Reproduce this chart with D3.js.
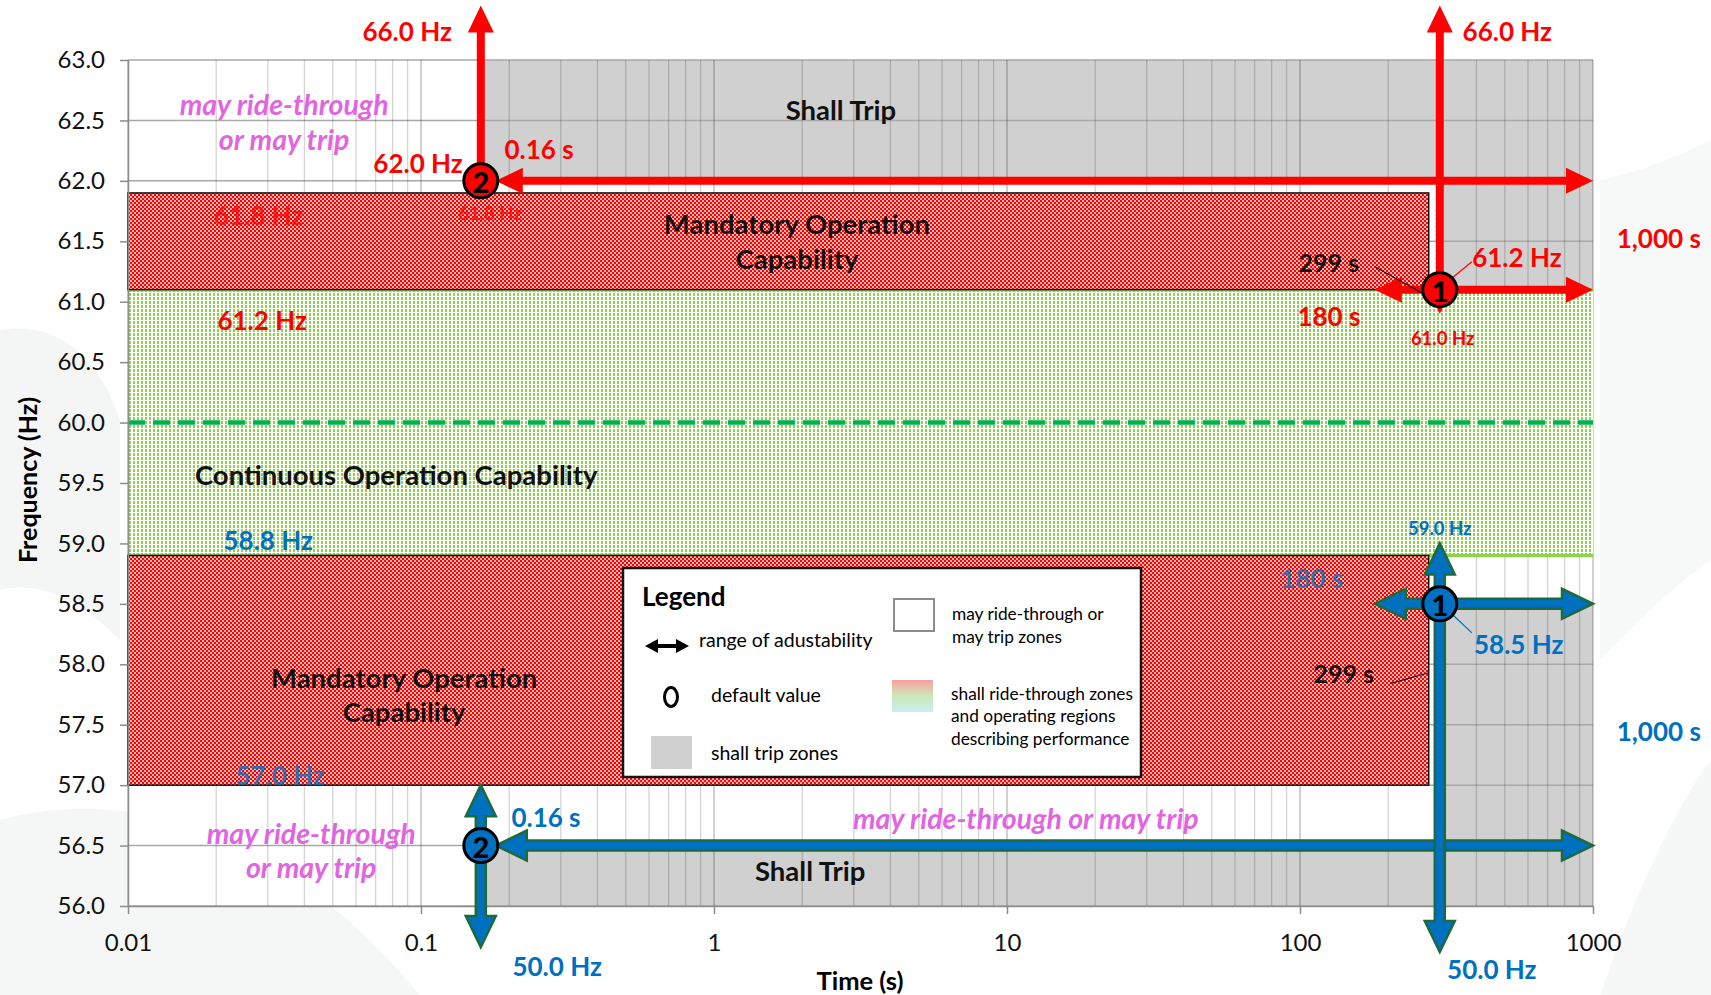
<!DOCTYPE html>
<html lang="en">
<head>
<meta charset="UTF-8">
<title>Frequency Ride-Through Requirements</title>
<script src="https://d3js.org/d3.v7.min.js"></script>
<style>
  body { margin: 0; background: #fff; }
  text { font-family: Lato, "Open Sans", sans-serif; }
</style>
</head>
<body>
<svg id="chart" width="1711" height="995"></svg>
<script>
// ---- data ----
const timeTicks = [0.01, 0.1, 1, 10, 100, 1000];
const timeTickLabels = ['0.01', '0.1', '1', '10', '100', '1000'];
const freqTicks = [56.0, 56.5, 57.0, 57.5, 58.0, 58.5, 59.0, 59.5, 60.0, 60.5, 61.0, 61.5, 62.0, 62.5, 63.0];

// shall trip zones (time s, frequency Hz)
const upperTripZone = [[0.16, 63], [1000, 63], [1000, 61.1], [300, 61.1], [300, 62], [0.16, 62]];
const lowerTripZone = [[0.16, 56], [1000, 56], [1000, 58.5], [300, 58.5], [300, 56.5], [0.16, 56.5]];

// mandatory operation zones
const mandatoryZones = [
  { t0: 0.01, t1: 275, f0: 61.1, f1: 61.9 },
  { t0: 0.01, t1: 275, f0: 57.0, f1: 58.9 }
];
// continuous operation zone
const continuousZone = { t0: 0.01, t1: 1000, f0: 58.9, f1: 61.1 };
const nominalFreq = 60.0;

// ranges of adjustability: [start, end], heads at start / end
const overFreqArrows = [
  { from: [0.16, 62.0], to: [0.16, 63.45], startHead: false, endHead: true },
  { from: [0.18, 62.0], to: [1000, 62.0], startHead: true, endHead: true },
  { from: [180, 61.1], to: [1000, 61.1], startHead: true, endHead: true },
  { from: [300, 60.9], to: [300, 63.45], startHead: true, endHead: true }
];
const underFreqArrows = [
  { from: [0.16, 55.66], to: [0.16, 57.0], startHead: true, endHead: true },
  { from: [0.18, 56.5], to: [1000, 56.5], startHead: true, endHead: true },
  { from: [180, 58.5], to: [1000, 58.5], startHead: true, endHead: true },
  { from: [300, 55.62], to: [300, 59.0], startHead: true, endHead: true }
];

// default values
const defaultPoints = [
  { t: 0.16, f: 62.0, n: '2', side: 'over' },
  { t: 300, f: 61.1, n: '1', side: 'over' },
  { t: 0.16, f: 56.5, n: '2', side: 'under' },
  { t: 300, f: 58.5, n: '1', side: 'under' }
];

// leader lines
const leaders = [
  { pts: [[180, 61.29], [262, 61.07]], side: 'note' },
  { pts: [[332, 61.20], [386, 61.33]], side: 'over' },
  { pts: [[332, 58.41], [386, 58.26]], side: 'under' },
  { pts: [[203, 57.84], [275, 57.93]], side: 'note' }
];

// text annotations, anchored in (time, frequency)
const annotations = [
  { text: '66.0 Hz', t: 0.0897, f: 63.244, kind: 'over' },
  { text: '66.0 Hz', t: 510, f: 63.244, kind: 'over' },
  { text: '0.16 s', t: 0.253, f: 62.26, kind: 'over' },
  { text: '62.0 Hz', t: 0.0977, f: 62.15, kind: 'over' },
  { text: '61.8 Hz', t: 0.172, f: 61.73, kind: 'overSmall', hatched: true },
  { text: '61.8 Hz', t: 0.0279, f: 61.72, kind: 'over', hatched: true },
  { text: '61.2 Hz', t: 550, f: 61.37, kind: 'over' },
  { text: '1,000 s', t: 1677, f: 61.53, kind: 'over' },
  { text: '180 s', t: 125.5, f: 60.88, kind: 'over' },
  { text: '61.0 Hz', t: 307, f: 60.70, kind: 'overSmall' },
  { text: '61.2 Hz', t: 0.0287, f: 60.85, kind: 'over' },
  { text: '58.8 Hz', t: 0.0301, f: 59.03, kind: 'under' },
  { text: '59.0 Hz', t: 300, f: 59.13, kind: 'underSmall' },
  { text: '180 s', t: 109.8, f: 58.71, kind: 'under', hatched: true },
  { text: '58.5 Hz', t: 558, f: 58.17, kind: 'under' },
  { text: '1,000 s', t: 1677, f: 57.45, kind: 'under' },
  { text: '57.0 Hz', t: 0.0331, f: 57.08, kind: 'under', hatched: true },
  { text: '0.16 s', t: 0.267, f: 56.74, kind: 'under' },
  { text: '50.0 Hz', t: 0.2915, f: 55.50, kind: 'under' },
  { text: '50.0 Hz', t: 451.6, f: 55.48, kind: 'under' },
  { text: '299 s', t: 125.5, f: 61.33, kind: 'note' },
  { text: '299 s', t: 141, f: 57.93, kind: 'note' },
  { text: 'Shall Trip', t: 2.71, f: 62.59, kind: 'zone' },
  { text: 'Shall Trip', t: 2.13, f: 56.29, kind: 'zone' },
  { text: 'Mandatory Operation', t: 1.92, f: 61.65, kind: 'zone' },
  { text: 'Capability', t: 1.92, f: 61.36, kind: 'zone' },
  { text: 'Mandatory Operation', t: 0.0876, f: 57.89, kind: 'zone' },
  { text: 'Capability', t: 0.0876, f: 57.61, kind: 'zone' },
  { text: 'Continuous Operation Capability', t: 0.0823, f: 59.57, kind: 'zone' },
  { text: 'may ride-through', t: 0.0341, f: 62.64, kind: 'maybe' },
  { text: 'or may trip', t: 0.0341, f: 62.35, kind: 'maybe' },
  { text: 'may ride-through', t: 0.0422, f: 56.60, kind: 'maybe' },
  { text: 'or may trip', t: 0.0422, f: 56.32, kind: 'maybe' },
  { text: 'may ride-through or may trip', t: 11.6, f: 56.73, kind: 'maybe' }
];

// ---- drawing ----
const RED = '#ff0000', BLUE = '#0070c0', BLUE_EDGE = '#1d6a3a', GREEN = '#92d050';
const textStyle = {
  over:       { fill: RED, size: 26 },
  overSmall:  { fill: RED, size: 18.5 },
  under:      { fill: BLUE, size: 26 },
  underSmall: { fill: BLUE, size: 18.5 },
  note:       { fill: '#111', size: 25 },
  zone:       { fill: '#111', size: 27.5 },
  maybe:      { fill: '#e065de', size: 28.5, italic: true }
};

const svg = d3.select('#chart');
const x = d3.scaleLog().domain([0.01, 1000]).range([128, 1593]);
const y = d3.scaleLinear().domain([56, 63]).range([906, 60]);
const pt = d => [x(d[0]), y(d[1])];

// patterns
const defs = svg.append('defs');
const checker = defs.append('pattern').attr('id', 'checker')
  .attr('patternUnits', 'userSpaceOnUse').attr('width', 4).attr('height', 4);
checker.append('rect').attr('width', 4).attr('height', 4).attr('fill', '#ffb8b8');
checker.append('rect').attr('x', 0).attr('y', 0).attr('width', 2).attr('height', 2).attr('fill', RED);
checker.append('rect').attr('x', 2).attr('y', 2).attr('width', 2).attr('height', 2).attr('fill', RED);
const dots = defs.append('pattern').attr('id', 'dots')
  .attr('patternUnits', 'userSpaceOnUse').attr('width', 4).attr('height', 4);
dots.append('rect').attr('width', 4).attr('height', 4).attr('fill', '#fbfdf8');
dots.append('rect').attr('x', 1).attr('y', 1).attr('width', 2).attr('height', 3).attr('fill', '#92d050');
const grad = defs.append('linearGradient').attr('id', 'legendGrad')
  .attr('x1', 0).attr('y1', 0).attr('x2', 0).attr('y2', 1);
grad.append('stop').attr('offset', '0%').attr('stop-color', '#f6a0a0');
grad.append('stop').attr('offset', '50%').attr('stop-color', '#cce8b8');
grad.append('stop').attr('offset', '100%').attr('stop-color', '#c8eef0');

// faint background swooshes
const swoosh = svg.append('g').attr('fill', '#f0f4f2');
swoosh.append('path').attr('d', 'M0,330 C60,320 100,360 120,420 L120,640 C80,600 40,580 0,590 Z').attr('opacity', 0.8);
swoosh.append('path').attr('d', 'M0,820 C150,780 300,850 420,995 L0,995 Z').attr('opacity', 0.7);
swoosh.append('path').attr('d', 'M1600,180 C1650,170 1690,150 1711,140 L1711,560 C1680,580 1640,620 1600,660 Z').attr('opacity', 0.5);
swoosh.append('path').attr('d', 'M1711,760 C1680,800 1640,880 1600,995 L1711,995 Z').attr('opacity', 0.6);

// plot background
svg.append('rect').attr('x', x(0.01)).attr('y', y(63))
  .attr('width', x(1000) - x(0.01)).attr('height', y(56) - y(63)).attr('fill', '#fff');

// shall trip zones
const area = d3.line().x(d => x(d[0])).y(d => y(d[1]));
svg.selectAll('.trip').data([upperTripZone, lowerTripZone]).join('path')
  .attr('class', 'trip').attr('d', d => area(d) + 'Z').attr('fill', '#d0d0d0');

// gridlines
const grid = svg.append('g');
grid.selectAll('.hgrid').data(freqTicks).join('line').attr('class', 'hgrid')
  .attr('x1', x(0.01)).attr('x2', x(1000)).attr('y1', d => y(d)).attr('y2', d => y(d))
  .attr('stroke', '#a8a8a8').attr('stroke-width', 1.5);
grid.selectAll('.vgrid').data(x.ticks()).join('line').attr('class', 'vgrid')
  .attr('x1', d => x(d)).attr('x2', d => x(d)).attr('y1', y(56)).attr('y2', y(63))
  .attr('stroke', d => timeTicks.includes(d) ? 'rgba(0,0,0,0.28)' : 'rgba(0,0,0,0.17)')
  .attr('stroke-width', 1.3);

// continuous operation zone
svg.append('rect').attr('x', x(continuousZone.t0)).attr('y', y(continuousZone.f1))
  .attr('width', x(continuousZone.t1) - x(continuousZone.t0))
  .attr('height', y(continuousZone.f0) - y(continuousZone.f1)).attr('fill', 'url(#dots)');
svg.selectAll('.cedge').data([continuousZone.f0, continuousZone.f1]).join('line').attr('class', 'cedge')
  .attr('x1', x(continuousZone.t0)).attr('x2', x(continuousZone.t1))
  .attr('y1', d => y(d)).attr('y2', d => y(d)).attr('stroke', GREEN).attr('stroke-width', 3.5);

// mandatory operation zones
svg.selectAll('.mzone').data(mandatoryZones).join('rect').attr('class', 'mzone')
  .attr('x', d => x(d.t0)).attr('y', d => y(d.f1))
  .attr('width', d => x(d.t1) - x(d.t0)).attr('height', d => y(d.f0) - y(d.f1))
  .attr('fill', 'url(#checker)').attr('stroke', '#111').attr('stroke-width', 1.5);

// nominal frequency
svg.append('line').attr('x1', x(0.01)).attr('x2', x(1000))
  .attr('y1', y(nominalFreq)).attr('y2', y(nominalFreq))
  .attr('stroke', '#00b050').attr('stroke-width', 4.5).attr('stroke-dasharray', '17,8');

// axes
const yAxis = svg.append('g').attr('transform', `translate(${x(0.01)},0)`)
  .call(d3.axisLeft(y).tickValues(freqTicks).tickFormat(d3.format('.1f')).tickSize(8).tickSizeOuter(0).tickPadding(15));
const xAxis = svg.append('g').attr('transform', `translate(0,${y(56)})`)
  .call(d3.axisBottom(x).tickValues(timeTicks).tickFormat((d, i) => timeTickLabels[i]).tickSize(8).tickSizeOuter(0).tickPadding(20));
[yAxis, xAxis].forEach(a => {
  a.select('.domain').attr('stroke', '#8c8c8c').attr('stroke-width', 1.5);
  a.selectAll('.tick line').attr('stroke', '#8c8c8c').attr('stroke-width', 1.5);
  a.selectAll('.tick text').attr('font-size', 24).attr('fill', '#111')
    .style('font-family', 'Lato, "Open Sans", sans-serif');
});

svg.append('text').attr('x', 860).attr('y', 980).attr('text-anchor', 'middle')
  .attr('dominant-baseline', 'central').attr('font-size', 25.5).attr('font-weight', 700).text('Time (s)');
svg.append('text').attr('transform', 'translate(27,480) rotate(-90)').attr('text-anchor', 'middle')
  .attr('dominant-baseline', 'central').attr('font-size', 25).attr('font-weight', 700).text('Frequency (Hz)');

// arrows
function arrowPoints(p1, p2, w, hl, hw, startHead, endHead) {
  const dx = p2[0] - p1[0], dy = p2[1] - p1[1];
  const len = Math.hypot(dx, dy);
  const ux = dx / len, uy = dy / len, nx = -uy, ny = ux;
  const P = (s, n) => [p1[0] + ux * s + nx * n, p1[1] + uy * s + ny * n];
  const a = startHead ? hl : 0, b = endHead ? len - hl : len;
  const pts = [];
  if (startHead) pts.push(P(0, 0), P(hl, -hw / 2));
  pts.push(P(a, -w / 2), P(b, -w / 2));
  if (endHead) pts.push(P(b, -hw / 2), P(len, 0), P(b, hw / 2));
  pts.push(P(b, w / 2), P(a, w / 2));
  if (startHead) pts.push(P(hl, hw / 2));
  return pts;
}
const polyLine = d3.line();
svg.selectAll('.oarrow').data(overFreqArrows).join('path').attr('class', 'oarrow')
  .attr('d', d => polyLine(arrowPoints(pt(d.from), pt(d.to), 8, 27, 26, d.startHead, d.endHead)) + 'Z')
  .attr('fill', RED);
svg.selectAll('.uarrow').data(underFreqArrows).join('path').attr('class', 'uarrow')
  .attr('d', d => polyLine(arrowPoints(pt(d.from), pt(d.to), 10, 31, 30, d.startHead, d.endHead)) + 'Z')
  .attr('fill', BLUE).attr('stroke', BLUE_EDGE).attr('stroke-width', 2.5).attr('stroke-linejoin', 'miter');

// leader lines
svg.selectAll('.leader').data(leaders).join('path').attr('class', 'leader')
  .attr('d', d => polyLine(d.pts.map(pt)))
  .attr('stroke', d => d.side === 'over' ? RED : d.side === 'under' ? BLUE : '#111')
  .attr('stroke-width', 1.2).attr('fill', 'none');

// default value markers
const marks = svg.selectAll('.dflt').data(defaultPoints).join('g').attr('class', 'dflt')
  .attr('transform', d => `translate(${x(d.t)},${y(d.f)})`);
marks.append('circle').attr('r', 17).attr('fill', d => d.side === 'over' ? RED : BLUE)
  .attr('stroke', '#000').attr('stroke-width', 3);
marks.append('text').attr('text-anchor', 'middle').attr('dominant-baseline', 'central').attr('y', 1)
  .attr('font-size', 29).attr('font-weight', 900).attr('fill', '#000').text(d => d.n);

// annotations
svg.append('g').selectAll('text').data(annotations).join('text')
  .attr('x', d => x(d.t)).attr('y', d => y(d.f))
  .attr('text-anchor', 'middle').attr('dominant-baseline', 'central')
  .attr('fill', d => textStyle[d.kind].fill)
  .attr('fill-opacity', d => d.hatched ? 0.8 : 1)
  .attr('font-size', d => textStyle[d.kind].size)
  .attr('font-weight', 700)
  .attr('font-style', d => textStyle[d.kind].italic ? 'italic' : 'normal')
  .text(d => d.text);

// legend
const lg = svg.append('g');
lg.append('rect').attr('x', 623).attr('y', 568).attr('width', 518).attr('height', 209)
  .attr('fill', '#fff').attr('stroke', '#111').attr('stroke-width', 2.5);
lg.append('text').attr('x', 642).attr('y', 596).attr('dominant-baseline', 'central')
  .attr('font-size', 26).attr('font-weight', 700).text('Legend');
lg.append('path').attr('d', polyLine(arrowPoints([645, 646], [689, 646], 4, 13, 14, true, true)) + 'Z').attr('fill', '#000');
lg.append('text').attr('x', 699).attr('y', 639).attr('dominant-baseline', 'central').attr('font-size', 19.5).text('range of adustability');
lg.append('ellipse').attr('cx', 671).attr('cy', 697).attr('rx', 6.5).attr('ry', 9.5)
  .attr('fill', 'none').attr('stroke', '#000').attr('stroke-width', 3);
lg.append('text').attr('x', 711).attr('y', 694).attr('dominant-baseline', 'central').attr('font-size', 19.5).text('default value');
lg.append('rect').attr('x', 651).attr('y', 736).attr('width', 41).attr('height', 33).attr('fill', '#d0d0d0');
lg.append('text').attr('x', 711).attr('y', 752).attr('dominant-baseline', 'central').attr('font-size', 19.5).text('shall trip zones');
lg.append('rect').attr('x', 894).attr('y', 599).attr('width', 40).attr('height', 32)
  .attr('fill', '#fff').attr('stroke', '#8c8c8c').attr('stroke-width', 2);
lg.append('text').attr('x', 952).attr('y', 613).attr('dominant-baseline', 'central').attr('font-size', 17.3).text('may ride-through or');
lg.append('text').attr('x', 952).attr('y', 636).attr('dominant-baseline', 'central').attr('font-size', 17.3).text('may trip zones');
lg.append('rect').attr('x', 892).attr('y', 680).attr('width', 41).attr('height', 32).attr('fill', 'url(#legendGrad)');
lg.append('text').attr('x', 951).attr('y', 693).attr('dominant-baseline', 'central').attr('font-size', 17.3).text('shall ride-through zones');
lg.append('text').attr('x', 951).attr('y', 715).attr('dominant-baseline', 'central').attr('font-size', 17.3).text('and operating regions');
lg.append('text').attr('x', 951).attr('y', 738).attr('dominant-baseline', 'central').attr('font-size', 17.3).text('describing performance');
</script>
</body>
</html>
